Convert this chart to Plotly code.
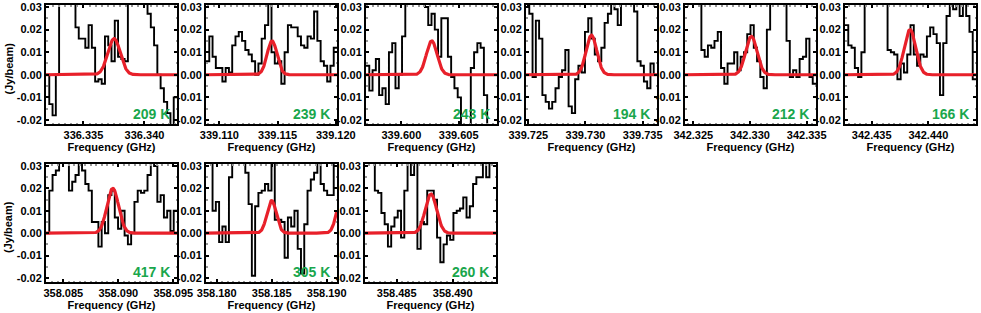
import numpy as np
import plotly.graph_objects as go

# ---------------- data ----------------
temps = ["209 K", "239 K", "243 K", "194 K", "212 K", "166 K", "417 K", "305 K", "260 K"]

freq_ranges = [
    (336.33194, 336.34266),
    (339.10885, 339.12010),
    (339.59691, 339.60835),
    (339.72480, 339.73625),
    (342.32427, 342.33582),
    (342.43265, 342.44420),
    (358.08343, 358.09534),
    (358.17903, 358.19094),
    (358.48217, 358.49387),
]

freq_ticks = [
    [336.335, 336.340],
    [339.110, 339.115, 339.120],
    [339.600, 339.605],
    [339.725, 339.730, 339.735],
    [342.325, 342.330, 342.335],
    [342.435, 342.440],
    [358.085, 358.090, 358.095],
    [358.180, 358.185, 358.190],
    [358.485, 358.490],
]

spec1 = [0.0, -0.013, -0.018, 0.0, 0.035, 0.04, 0.04, 0.04, 0.04, 0.021,
         0.016, 0.016, 0.012, 0.022, 0.012, -0.003, -0.002, -0.004, 0.017, 0.013,
         0.006, 0.024, 0.008, 0.007, 0.006, 0.035, 0.04, 0.04, 0.04, 0.04,
         0.04, 0.027, 0.021, 0.013, 0.0, -0.006, -0.012, -0.017, -0.025, -0.01]
spec2 = [0.006, 0.017, 0.008, 0.003, 0.003, -0.003, 0.003, 0.001, 0.013, 0.017,
         0.019, 0.015, 0.011, 0.009, 0.006, 0.0, 0.005, 0.016, 0.022, 0.035,
         0.010, 0.005, 0.006, -0.004, 0.010, 0.022, 0.021, 0.021, 0.017, 0.013,
         0.012, 0.017, 0.016, 0.028, 0.015, 0.006, 0.004, -0.003, 0.004, 0.012]
spec3 = [0.004, -0.007, 0.002, 0.007, -0.009, -0.006, -0.013, 0.010, 0.014, -0.006,
         0.0, 0.017, 0.035, 0.04, 0.04, 0.04, 0.04, 0.04, 0.030, 0.022,
         0.027, 0.02, 0.008, 0.025, 0.025, 0.008, -0.001, -0.006, -0.010, -0.025,
         -0.025, -0.025, 0.003, 0.010, 0.014, 0.012, -0.009, -0.025, -0.025, -0.025]
spec4 = [0.035, 0.027, -0.001, 0.024, 0.016, -0.009, -0.012, -0.015, -0.012, -0.006,
         -0.001, 0.002, 0.011, -0.014, -0.017, -0.002, 0.004, 0.001, 0.019, 0.025,
         0.016, 0.009, 0.006, 0.012, 0.023, 0.027, 0.035, 0.029, 0.022, 0.035,
         0.04, 0.04, 0.04, 0.028, 0.006, 0.004, -0.003, -0.006, 0.005, 0.0]
spec5 = [0.04, 0.04, 0.04, 0.04, 0.04, 0.011, 0.008, 0.013, 0.012, 0.015,
         0.019, 0.003, -0.004, 0.005, 0.005, 0.010, 0.002, 0.008, 0.010, 0.018,
         0.022, 0.012, 0.006, -0.001, -0.006, 0.020, 0.035, 0.04, 0.04, 0.04,
         0.035, 0.015, -0.001, 0.002, -0.001, 0.007, 0.008, 0.016, -0.001, -0.004]
spec6 = [0.022, 0.013, 0.012, 0.003, -0.001, 0.010, 0.04, 0.04, 0.04, 0.04,
         0.04, 0.04, 0.04, 0.011, 0.010, 0.009, -0.002, 0.005, 0.001, 0.009,
         0.022, 0.009, 0.004, 0.009, 0.008, 0.017, 0.021, 0.018, 0.014, -0.009,
         0.014, 0.026, 0.035, 0.029, 0.035, 0.026, 0.035, 0.026, 0.019, -0.002]
spec7 = [0.0, 0.019, 0.026, 0.028, 0.035, 0.035, 0.035, 0.019, 0.023, 0.026,
         0.035, 0.028, 0.022, 0.019, 0.005, 0.005, -0.006, 0.005, 0.0, 0.017,
         0.019, 0.007, 0.002, 0.010, -0.001, -0.005, 0.0, 0.014, 0.019, 0.018,
         0.019, 0.026, 0.035, 0.030, 0.014, 0.017, 0.007, 0.010, 0.001, 0.010]
spec8 = [0.035, 0.035, 0.010, 0.014, -0.004, 0.003, -0.004, 0.025, 0.035, 0.035,
         0.035, 0.035, 0.027, 0.013, -0.019, 0.012, 0.018, 0.019, 0.022, 0.019,
         0.035, 0.006, 0.006, 0.005, -0.011, 0.007, 0.003, 0.010, -0.007, -0.018,
         0.004, 0.019, 0.024, 0.027, 0.035, 0.022, 0.019, 0.017, 0.017, 0.035]
spec9 = [0.035, 0.035, 0.035, 0.019, 0.018, 0.009, 0.004, -0.006, 0.003, 0.007,
         0.010, -0.002, 0.019, 0.035, 0.026, 0.035, -0.007, 0.005, 0.004, 0.019,
         0.019, 0.015, -0.002, -0.013, -0.005, -0.001, -0.003, 0.009, 0.010, 0.011,
         0.016, 0.007, 0.012, 0.022, 0.025, 0.025, 0.032, 0.025, 0.035, 0.035]
spectra = [spec1, spec2, spec3, spec4, spec5, spec6, spec7, spec8, spec9]

# Gaussian fit components: (centre GHz, amplitude Jy/beam, FWHM GHz)
fits = [
    [(336.33751, 0.016, 0.0012)],
    [(339.11452, 0.015, 0.0010)],
    [(339.60265, 0.015, 0.0011)],
    [(339.73052, 0.0175, 0.0011)],
    [(342.33012, 0.017, 0.00118)],
    [(342.43838, 0.020, 0.00118)],
    [(358.08950, 0.020, 0.00125)],
    [(358.18500, 0.0145, 0.0010), (358.19130, 0.0145, 0.0010)],
    [(358.48806, 0.0175, 0.0012)],
]

y_ticks = [-0.02, -0.01, 0.0, 0.01, 0.02, 0.03]
y_ticktext = ["-0.02", "-0.01", "0.00", "0.01", "0.02", "0.03"]

# ---------------- layout geometry ----------------
W, H = 981, 313
lefts_px = [46, 206, 366, 526, 685, 845, 46, 206, 365]
pw = 131
rows_px = [(5, 124)] * 6 + [(164, 282)] * 3

FONT = "Liberation Sans, Arial, Helvetica, sans-serif"
GREEN = "#19a64c"
RED = "#e8202a"

fig = go.Figure()
layout = dict(
    width=W, height=H, margin=dict(l=0, r=0, t=0, b=0, pad=0, autoexpand=False),
    paper_bgcolor="white", plot_bgcolor="white", showlegend=False,
    font=dict(family=FONT, size=11, color="black"),
)
annotations = []

for i in range(9):
    k = "" if i == 0 else str(i + 1)
    xa, ya = "x" + k, "y" + k
    lo, hi = freq_ranges[i]
    n = len(spectra[i])
    edges = lo + (hi - lo) * np.arange(n + 1) / n
    yv = list(spectra[i]) + [spectra[i][-1]]
    fig.add_trace(go.Scatter(x=edges, y=yv, mode="lines", line=dict(color="black", width=1.9, shape="hv"),
                             xaxis=xa, yaxis=ya, hoverinfo="skip"))
    xs = np.linspace(lo, hi, 400)
    model = np.zeros_like(xs)
    for (c, a, fw) in fits[i]:
        s = fw / 2.3548
        model += a * np.exp(-0.5 * ((xs - c) / s) ** 2)
    fig.add_trace(go.Scatter(x=xs, y=model, mode="lines", line=dict(color=RED, width=3.2),
                             xaxis=xa, yaxis=ya, hoverinfo="skip"))

    l = lefts_px[i]
    top, bot = rows_px[i]
    xdom = [l / W, (l + pw) / W]
    ydom = [1 - bot / H, 1 - top / H]
    tickfont = dict(family=FONT, size=11, color="black", weight="bold")
    layout["xaxis" + k] = dict(
        domain=xdom, anchor=ya, range=[lo, hi], tickvals=freq_ticks[i],
        ticktext=["%.3f" % v for v in freq_ticks[i]], automargin=False,
        ticks="inside", ticklen=3, tickwidth=1.5, tickcolor="black",
        showline=True, linewidth=2, linecolor="black", mirror="ticks",
        showgrid=False, zeroline=False, tickfont=tickfont,
        title=dict(text="Frequency (GHz)", font=dict(family=FONT, size=11, color="black", weight="bold"), standoff=0),
        minor=dict(ticks="inside", ticklen=1.5, tickcolor="#999", nticks=5),
    )
    layout["yaxis" + k] = dict(
        domain=ydom, anchor=xa, range=[-0.0218, 0.0309], tickvals=y_ticks, ticktext=y_ticktext,
        ticks="inside", ticklen=3, tickwidth=1.5, tickcolor="black", automargin=False,
        showline=True, linewidth=2, linecolor="black", mirror="ticks",
        showgrid=False, zeroline=False, tickfont=tickfont,
        minor=dict(ticks="inside", ticklen=1.5, tickcolor="#999", nticks=5),
    )
    annotations.append(dict(
        text=temps[i], xref=xa + " domain", yref=ya + " domain", x=1, y=0,
        xanchor="right", yanchor="bottom", xshift=-5, yshift=0, showarrow=False,
        font=dict(family=FONT, size=14, color=GREEN, weight="bold"),
    ))

for (top, bot) in [(5, 124), (164, 282)]:
    annotations.append(dict(
        text="(Jy/beam)", xref="paper", yref="paper", x=8 / W, y=1 - ((top + bot) / 2 + 4) / H,
        xanchor="center", yanchor="middle", textangle=-90, showarrow=False,
        font=dict(family=FONT, size=11, color="black", weight="bold"),
    ))

layout["annotations"] = annotations
fig.update_layout(**layout)
fig.write_html(
    "out.html",
    config={"displayModeBar": False},
    post_script="document.body.style.margin='0';document.body.style.overflow='hidden';",
)
